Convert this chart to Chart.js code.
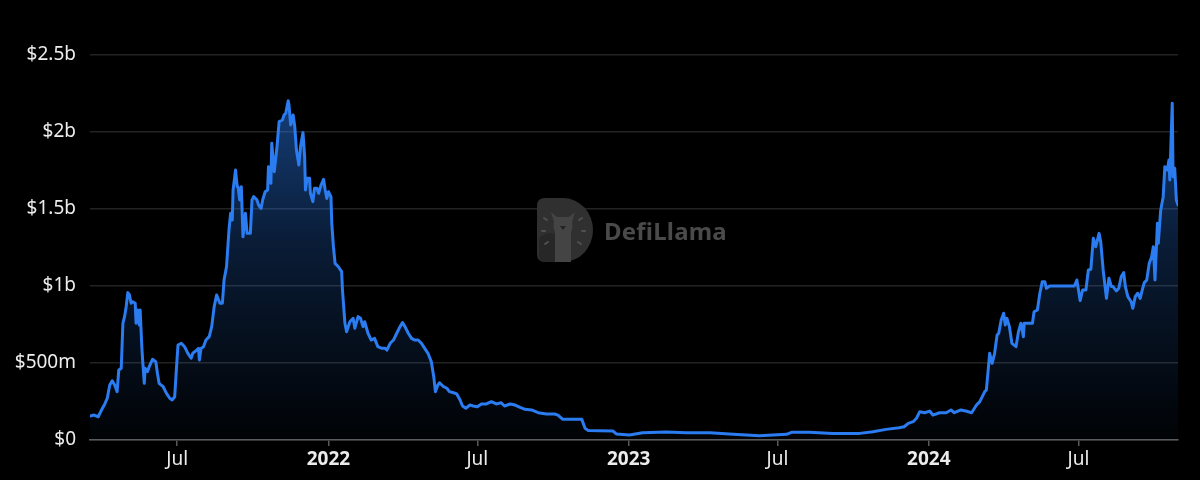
<!DOCTYPE html>
<html>
<head>
<meta charset="utf-8">
<script src="https://cdn.jsdelivr.net/npm/chart.js@4.4.1/dist/chart.umd.min.js"></script>
<style>
  html, body { margin: 0; padding: 0; background: #000; }
  #wrap { position: relative; width: 1200px; height: 480px; background: #000; overflow: hidden; }
  #c { position: absolute; left: 0; top: 0; }
  #wm { position: absolute; left: 537px; top: 198px; display: flex; align-items: center; pointer-events: none; }
  #wm span { font-family: "Noto Sans", sans-serif; font-weight: 700; font-size: 24px; color: #4a4a4a; margin-left: 11px; letter-spacing: 0.2px; }
</style>
</head>
<body>
<div id="wrap">
  <canvas id="c" width="1200" height="480"></canvas>
  <div id="wm">
    <svg width="56" height="64" viewBox="0 0 56 64">
      <path d="M0 8 Q0 0 8 0 H26 A30 32 0 0 1 26 64 H8 Q0 64 0 56 Z" fill="#303030"/>
      <path d="M2 40 Q14 30 24 40 L26 64 H8 Q2 64 2 56 Z" fill="#272727"/>
      <path d="M18 64 V34 Q16 30 17 24 L14 14 L20 19 H32 L38 14 L35 24 Q36 30 34 34 V64 Z" fill="#444"/>
      <path d="M23 28 L29 28 L26 32 Z" fill="#222"/>
      <g stroke="#505050" stroke-width="2" stroke-linecap="round">
        <line x1="7" y1="20" x2="10" y2="22"/>
        <line x1="5" y1="33" x2="8" y2="33"/>
        <line x1="8" y1="46" x2="11" y2="44"/>
        <line x1="45" y1="20" x2="42" y2="22"/>
        <line x1="48" y1="33" x2="45" y2="33"/>
        <line x1="44" y1="46" x2="41" y2="44"/>
      </g>
    </svg>
    <span>DefiLlama</span>
  </div>
</div>
<script>
// ---- data (values in $ millions) ----
const dates = [
'2021-03-17','2021-03-22','2021-03-27','2021-03-31','2021-04-04','2021-04-07','2021-04-10','2021-04-13','2021-04-16','2021-04-19',
'2021-04-21','2021-04-24','2021-04-26','2021-04-28','2021-04-30','2021-05-02','2021-05-04','2021-05-06','2021-05-08','2021-05-11',
'2021-05-12','2021-05-14','2021-05-16','2021-05-17','2021-05-19','2021-05-20','2021-05-22','2021-05-23','2021-05-26','2021-05-28',
'2021-06-01','2021-06-05','2021-06-07','2021-06-09','2021-06-14','2021-06-18','2021-06-22','2021-06-25','2021-06-28','2021-06-30',
'2021-07-02','2021-07-06','2021-07-10','2021-07-14','2021-07-18','2021-07-20','2021-07-24','2021-07-27','2021-07-28','2021-07-30',
'2021-08-02','2021-08-05','2021-08-09','2021-08-12','2021-08-15','2021-08-18','2021-08-22','2021-08-25','2021-08-27','2021-08-30',
'2021-09-02','2021-09-04','2021-09-06','2021-09-07','2021-09-10','2021-09-12','2021-09-13','2021-09-15','2021-09-17','2021-09-19',
'2021-09-22','2021-09-24','2021-09-28','2021-09-30','2021-10-02','2021-10-06','2021-10-08','2021-10-11','2021-10-13','2021-10-16',
'2021-10-19','2021-10-20','2021-10-23','2021-10-24','2021-10-27','2021-10-30','2021-11-02','2021-11-06','2021-11-08','2021-11-10',
'2021-11-13','2021-11-14','2021-11-16','2021-11-19','2021-11-21','2021-11-23','2021-11-26','2021-11-28','2021-12-01','2021-12-03',
'2021-12-04','2021-12-06','2021-12-09','2021-12-10','2021-12-13','2021-12-15','2021-12-18','2021-12-20','2021-12-23','2021-12-26',
'2021-12-28','2021-12-30','2022-01-01','2022-01-04','2022-01-05','2022-01-07','2022-01-09','2022-01-13','2022-01-17','2022-01-18',
'2022-01-21','2022-01-23','2022-01-27','2022-01-31','2022-02-02','2022-02-06','2022-02-09','2022-02-12','2022-02-14','2022-02-18',
'2022-02-22','2022-02-26','2022-03-02','2022-03-07','2022-03-11','2022-03-13','2022-03-17','2022-03-21','2022-03-25','2022-03-29',
'2022-04-01','2022-04-04','2022-04-08','2022-04-12','2022-04-16','2022-04-20','2022-04-24','2022-04-28','2022-05-02','2022-05-06',
'2022-05-09','2022-05-11','2022-05-14','2022-05-16','2022-05-21','2022-05-25','2022-05-28','2022-06-02','2022-06-06','2022-06-10',
'2022-06-13','2022-06-17','2022-06-22','2022-06-26','2022-07-01','2022-07-06','2022-07-12','2022-07-18','2022-07-24','2022-07-30',
'2022-08-03','2022-08-10','2022-08-16','2022-08-22','2022-08-28','2022-09-05','2022-09-13','2022-09-23','2022-10-03','2022-10-07',
'2022-10-13','2022-10-25','2022-11-05','2022-11-09','2022-11-13','2022-11-27','2022-12-13','2022-12-17','2023-01-02','2023-01-18',
'2023-02-16','2023-03-12','2023-04-10','2023-05-08','2023-06-09','2023-07-12','2023-07-18','2023-08-09','2023-09-06','2023-10-09',
'2023-10-25','2023-11-10','2023-11-26','2023-12-02','2023-12-07','2023-12-13','2023-12-17','2023-12-21','2023-12-27','2024-01-02',
'2024-01-06','2024-01-14','2024-01-22','2024-01-28','2024-02-01','2024-02-09','2024-02-15','2024-02-22','2024-02-28','2024-03-03',
'2024-03-09','2024-03-11','2024-03-15','2024-03-18','2024-03-21','2024-03-24','2024-03-26','2024-03-29','2024-04-01','2024-04-03',
'2024-04-05','2024-04-08','2024-04-11','2024-04-16','2024-04-19','2024-04-22','2024-04-25','2024-04-26','2024-05-06','2024-05-08',
'2024-05-12','2024-05-15','2024-05-18','2024-05-21','2024-05-23','2024-05-27','2024-06-26','2024-06-29','2024-07-01','2024-07-03',
'2024-07-06','2024-07-10','2024-07-13','2024-07-16','2024-07-19','2024-07-22','2024-07-26','2024-07-28','2024-07-31','2024-08-04',
'2024-08-07','2024-08-10','2024-08-12','2024-08-16','2024-08-19','2024-08-22','2024-08-25','2024-08-27','2024-08-30','2024-09-03',
'2024-09-05','2024-09-08','2024-09-11','2024-09-14','2024-09-16','2024-09-19','2024-09-22','2024-09-25','2024-09-28','2024-09-30',
'2024-10-02','2024-10-05','2024-10-06','2024-10-09','2024-10-12','2024-10-14','2024-10-17','2024-10-19','2024-10-20','2024-10-23',
'2024-10-24','2024-10-26','2024-10-28','2024-10-30'
];
const volumes = [
156,162,151,195,234,271,357,385,357,314,
455,466,758,801,866,957,942,888,898,888,
758,844,747,844,606,520,368,466,444,476,
524,509,433,368,346,303,271,260,281,455,
617,628,606,563,531,563,580,595,520,595,
606,649,671,736,866,942,888,888,1039,1125,
1364,1472,1429,1623,1753,1645,1645,1559,1645,1320,
1472,1342,1342,1559,1580,1559,1526,1504,1559,1612,
1623,1775,1667,1927,1742,1883,2067,2078,2111,2122,
2203,2175,2046,2111,2035,1883,1786,1905,1996,1840,
1623,1699,1699,1602,1548,1634,1634,1602,1656,1693,
1623,1569,1612,1580,1407,1255,1147,1125,1093,974,
758,703,768,790,725,801,790,736,768,693,
649,660,606,595,595,584,628,649,693,736,
762,736,693,660,649,649,628,595,563,509,
411,314,357,372,346,336,314,307,299,260,
221,206,227,221,216,234,234,249,234,242,
221,234,227,212,199,195,177,169,169,162,
134,134,134,76,61,60,58,39,32,47,
52,47,47,37,28,37,50,50,43,43,
54,69,80,86,108,119,141,184,177,188,
162,177,177,195,177,195,188,177,227,249,
314,325,563,498,563,682,693,779,823,747,
790,736,628,606,703,758,671,758,758,833,
844,953,1028,1028,985,1000,1000,1039,974,905,
974,974,1104,1108,1310,1255,1342,1288,1104,920,
1050,996,996,968,985,1061,1087,996,931,898,
855,931,953,920,963,1022,1039,1147,1190,1255,
1039,1407,1277,1494,1580,1775,1753,1818,1688,2186,
1710,1764,1559,1526
];
const xTickDates  = ['2021-07-01','2022-01-01','2022-07-01','2023-01-01','2023-07-01','2024-01-01','2024-07-01'];
const xTickLabels = ['Jul','2022','Jul','2023','Jul','2024','Jul'];
const yTickValues = [0, 500, 1000, 1500, 2000, 2500];
const yTickLabels = ['$0','$500m','$1b','$1.5b','$2b','$2.5b'];

// ---- build ----
const toDay = s => { const [y,m,d] = s.split('-').map(Number); return Date.UTC(y, m-1, d) / 86400000; };
const points = dates.map((d, i) => ({ x: toDay(d), y: volumes[i] }));
const FONT = '"Noto Sans", sans-serif';
const LINE = '#2a7cf0';

const ctx = document.getElementById('c').getContext('2d');
new Chart(ctx, {
  type: 'line',
  data: {
    datasets: [{
      data: points,
      borderColor: LINE,
      borderWidth: 3,
      borderJoinStyle: 'round',
      borderCapStyle: 'round',
      pointRadius: 0,
      tension: 0,
      fill: 'origin',
      backgroundColor: (c) => {
        const area = c.chart.chartArea;
        if (!area) return 'rgba(42,124,240,0.3)';
        const g = c.chart.ctx.createLinearGradient(0, area.top, 0, area.bottom);
        g.addColorStop(0, 'rgba(42,124,240,0.58)');
        g.addColorStop(0.5, 'rgba(42,124,240,0.22)');
        g.addColorStop(1, 'rgba(42,124,240,0.02)');
        return g;
      }
    }]
  },
  options: {
    responsive: false,
    animation: false,
    layout: { padding: { top: 55, right: 22, bottom: 0, left: 0 } },
    plugins: { legend: { display: false }, tooltip: { enabled: false } },
    scales: {
      x: {
        type: 'linear',
        min: toDay(dates[0]),
        max: toDay(dates[dates.length - 1]),
        afterBuildTicks: (s) => { s.ticks = xTickDates.map(d => ({ value: toDay(d) })); },
        afterFit: (s) => { s.height = 40; s.paddingLeft = 0; s.paddingRight = 0; },
        ticks: {
          autoSkip: false, maxRotation: 0, padding: 2,
          color: '#ececec',
          font: (c) => ({ family: FONT, size: 19, weight: /^\d{4}$/.test(xTickLabels[c.index] || '') ? 'bold' : 'normal' }),
          callback: (v, i) => xTickLabels[i]
        },
        grid: { display: true, drawOnChartArea: false, drawTicks: true, tickLength: 6, color: '#5a5a5a', lineWidth: 1.5 },
        border: { display: true, color: '#5a5a5a', width: 1.5 }
      },
      y: {
        min: 0, max: 2500,
        afterBuildTicks: (s) => { s.ticks = yTickValues.map(v => ({ value: v })); },
        afterFit: (s) => { s.width = 90; s.paddingTop = 0; s.paddingBottom = 0; },
        ticks: {
          padding: 14, color: '#ececec',
          font: { family: FONT, size: 19 },
          callback: (v, i) => yTickLabels[i]
        },
        grid: { color: '#232323', lineWidth: 1.5, drawTicks: false },
        border: { display: false }
      }
    }
  }
});
</script>
</body>
</html>
